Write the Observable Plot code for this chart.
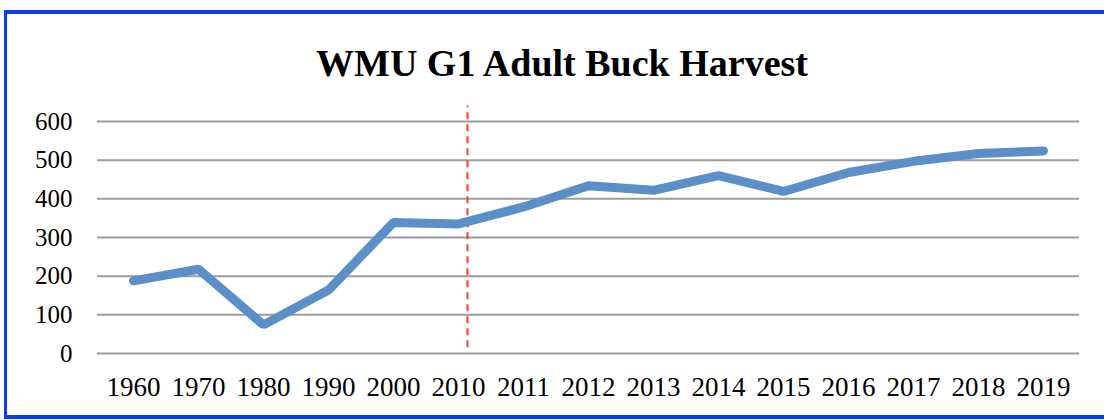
<!DOCTYPE html>
<html>
<head>
<meta charset="utf-8">
<script src="https://cdn.jsdelivr.net/npm/d3@7"></script>
<script src="https://cdn.jsdelivr.net/npm/@observablehq/plot@0.6"></script>
<style>
  html, body { margin: 0; padding: 0; background: #fff; }
  #wrap { position: relative; width: 1104px; height: 420px; overflow: hidden; background: #fff; }
  #frame { position: absolute; left: 4px; top: 10px; width: 1120px; height: 401px;
           border-left: 3px solid #0a3cf5; border-top: 4px solid #0a3cf5; border-bottom: 4px solid #0a3cf5; }
  #title { position: absolute; left: 20px; width: 1084px; top: 41px; text-align: center;
           font-family: "Liberation Serif", serif; font-weight: bold; font-size: 38px; color: #000; line-height: 44px; }
  #chart { position: absolute; left: 0; top: 90px; }
</style>
</head>
<body>
<div id="wrap">
  <div id="frame"></div>
  <div id="title">WMU G1 Adult Buck Harvest</div>
  <div id="chart"></div>
</div>
<script>
const years = ["1960","1970","1980","1990","2000","2010","2011","2012","2013","2014","2015","2016","2017","2018","2019"];
const harvest = [188, 218, 74, 164, 339, 335, 379, 434, 422, 460, 419, 468, 497, 517, 524];
const yTicks = [0, 100, 200, 300, 400, 500, 600];
const markerYear = ["2010"];
const markerSpan = [15, 640];

const data = years.map((y, i) => ({year: y, value: harvest[i]}));

const chart = Plot.plot({
  width: 1104,
  height: 320,
  marginLeft: 97,
  marginRight: 25,
  marginTop: 31,
  marginBottom: 57,
  style: { fontFamily: "Liberation Serif, serif", fontSize: "25px", color: "#000", background: "transparent", overflow: "visible" },
  x: { type: "point", domain: years, padding: 0.5, label: null },
  y: { domain: [0, 600], label: null },
  marks: [
    Plot.ruleY(yTicks, { stroke: "#9c9c9c", strokeWidth: 2 }),
    Plot.axisY({ ticks: yTicks, tickSize: 0, tickPadding: 25, label: null, fontSize: 25 }),
    Plot.axisX({ tickSize: 0, tickPadding: 23, label: null, fontSize: 27 }),
    Plot.ruleX(markerYear, { y1: markerSpan[0], y2: markerSpan[1], dx: 9, stroke: "#f5401a", strokeWidth: 2, strokeDasharray: "7,5" }),
    Plot.line(data, { x: "year", y: "value", stroke: "#5b8fc7", strokeWidth: 9, strokeLinecap: "round", strokeLinejoin: "miter" })
  ]
});
document.getElementById("chart").appendChild(chart);
</script>
</body>
</html>
